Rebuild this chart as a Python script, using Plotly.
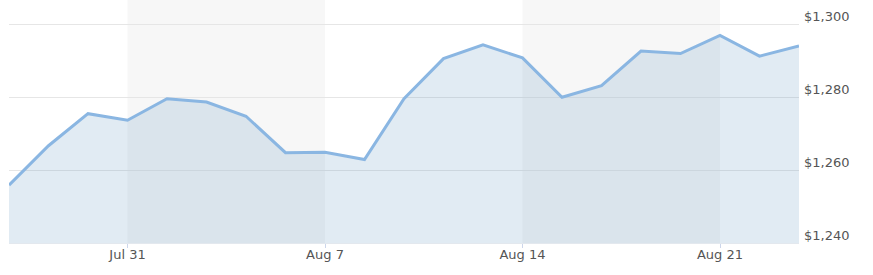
import plotly.graph_objects as go

dates = ["2017-07-26", "2017-07-27", "2017-07-28", "2017-07-31", "2017-08-01",
         "2017-08-02", "2017-08-03", "2017-08-04", "2017-08-07", "2017-08-08",
         "2017-08-09", "2017-08-10", "2017-08-11", "2017-08-14", "2017-08-15",
         "2017-08-16", "2017-08-17", "2017-08-18", "2017-08-21", "2017-08-22",
         "2017-08-23"]
prices = [1255.9, 1266.7, 1275.5, 1273.7, 1279.6, 1278.7, 1274.8, 1264.8, 1264.9, 1262.9,
          1279.6, 1290.6, 1294.4, 1290.8, 1280.0, 1283.2, 1292.7, 1292.0, 1297.0, 1291.3,
          1294.1]
tick_dates = ["2017-07-31", "2017-08-07", "2017-08-14", "2017-08-21"]
tick_labels = ["Jul 31", "Aug 7", "Aug 14", "Aug 21"]
y_ticks = [1240, 1260, 1280, 1300]
y_tick_labels = ["$1,240", "$1,260", "$1,280", "$1,300"]
bands = [("2017-07-31", "2017-08-07"), ("2017-08-14", "2017-08-21")]

fig = go.Figure()
fig.add_trace(go.Scatter(
    x=dates, y=prices, mode="lines",
    line=dict(color="#8ab6e2", width=3),
    fill="tozeroy", fillcolor="rgba(70,130,180,0.16)",
    hoverinfo="skip",
))

shapes = []
for a, b in bands:
    shapes.append(dict(type="rect", xref="x", yref="paper", x0=a, x1=b, y0=0, y1=1,
                       fillcolor="#f7f7f7", line=dict(width=0), layer="below"))

fig.update_layout(
    width=873, height=275,
    margin=dict(l=9, r=74, t=0, b=32),
    paper_bgcolor="white", plot_bgcolor="white",
    showlegend=False,
    shapes=shapes,
    font=dict(family="DejaVu Sans", size=13, color="#555555"),
    xaxis=dict(
        type="category", range=[0, len(dates) - 1],
        tickmode="array", tickvals=tick_dates, ticktext=tick_labels,
        ticks="outside", ticklen=4, tickcolor="#ccd6eb", tickwidth=1,
        showgrid=False, zeroline=False,
        showline=True, linecolor="#e3e8ee", linewidth=1,
        ticklabelstandoff=-5,
        fixedrange=True,
    ),
    yaxis=dict(
        side="right", range=[1240, 1306.7],
        tickmode="array", tickvals=y_ticks, ticktext=y_tick_labels,
        showgrid=True, gridcolor="#e6e6e6", gridwidth=1,
        zeroline=False, ticks="", ticklabelstandoff=4, ticklabelshift=-8,
        fixedrange=True,
    ),
)

fig.write_html("out.html")
